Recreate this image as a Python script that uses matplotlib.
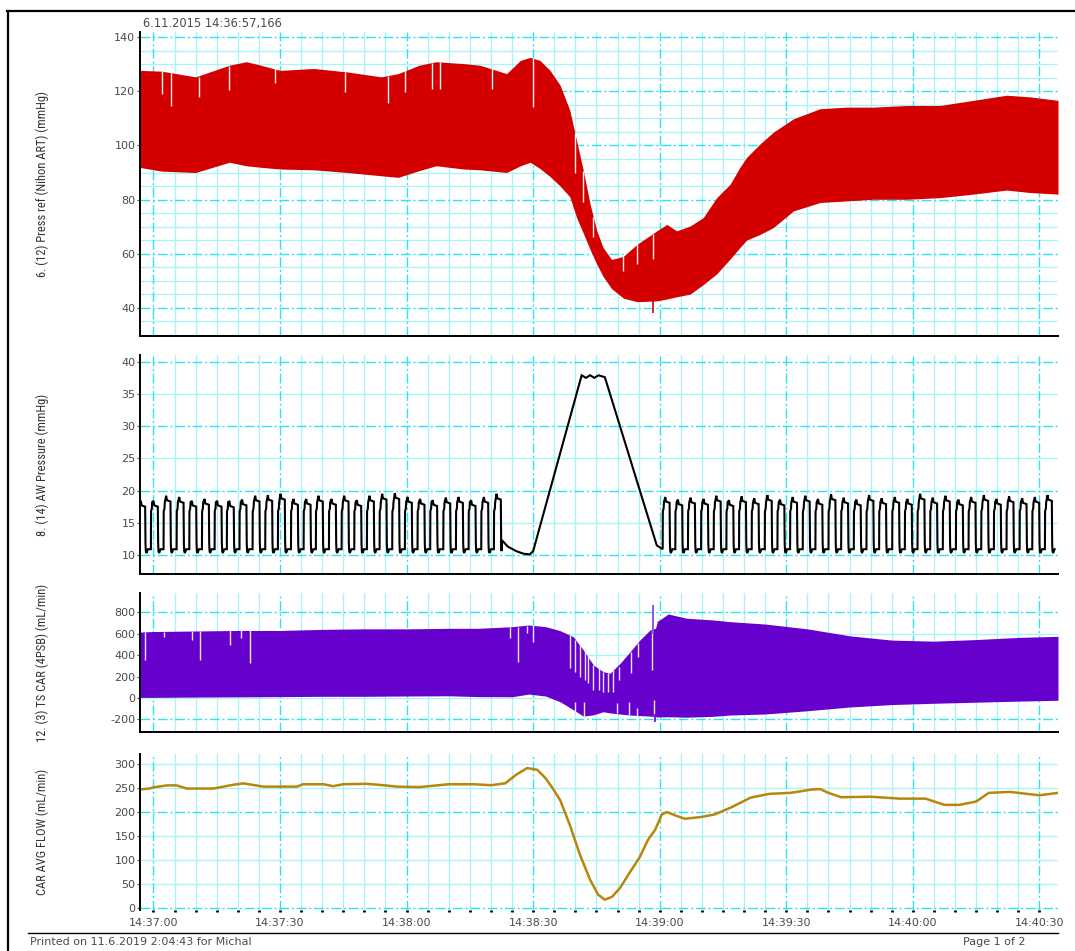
import numpy as np
import matplotlib
matplotlib.use("Agg")
import matplotlib.pyplot as plt
from matplotlib import font_manager as fm
from matplotlib.lines import Line2D
from matplotlib.ticker import FixedLocator, FuncFormatter

plt.rcParams["axes.unicode_minus"] = False

# ── Data (time in s after 14:37:00) ─────────────────────────
# Panel 1: arterial pressure envelope (mmHg)
abp_t = [-3.3, 2, 10, 18, 22, 25, 30, 38, 46, 54, 58, 63, 67, 73.5, 77.4,
         83.7, 87, 89.3, 91.6, 94, 96.4, 98.7, 100.3, 101.9, 103.5, 105.1,
         106.6, 108.6, 111.4, 114.6, 119.3, 121.7, 124, 127.2, 130.3, 133.5,
         136.7, 139, 140.6, 143.8, 146.9, 151.7, 158, 164.3, 170.6, 178.5,
         186.4, 194.3, 202.2, 207.7, 214.4]
abp_hi = [127.8, 127.5, 125.4, 129.7, 131, 129.9, 127.8, 128.5, 127.2, 125.4,
          126.6, 129.7, 131, 130.3, 129.7, 126.6, 131.5, 132.6, 131.5, 127.8,
          122.3, 113, 101.8, 90.7, 78.3, 68.4, 62.2, 57.8, 59, 63.4, 68.4,
          70.8, 68.4, 70.2, 73.3, 80.7, 85.7, 91.9, 95.6, 100.6, 104.9, 109.9,
          113.6, 114.2, 114.2, 114.8, 114.8, 116.7, 118.6, 118, 116.7]
abp_lo = [91.9, 90.5, 90, 93.8, 92.5, 92, 91.3, 91, 90, 88.8, 88.2, 90.7,
          92.5, 91.3, 91, 90, 92.5, 93.8, 91.5, 88.5, 85, 81, 73.3, 67.5, 61.5,
          56, 51.5, 47, 43.5, 42.2, 42.5, 43.2, 44, 45, 48.5, 52.5, 58, 62.2,
          65, 67.1, 69.6, 75.8, 78.9, 79.5, 80.1, 80.1, 80.7, 82, 83.5, 82.6, 82]
# white gaps between beats
abp_gap_t   = [2.0, 4.1, 10.7, 17.8, 28.8, 45.4, 55.7, 59.6, 66.0, 67.9, 80.2,
               90.0, 99.9, 101.9, 104.3, 111.4, 114.6, 118.3]
abp_gap_top = [127.5, 127, 125.5, 129.5, 128.2, 127.3, 125.9, 127.8, 130.7,
               131, 128.3, 132.3, 104.6, 90.7, 73.4, 59, 63.4, 67.4]
abp_gap_bot = [119.2, 114.8, 117.9, 120.4, 123.2, 119.8, 115.6, 119.8, 121,
               121, 121, 114.2, 90, 79, 66, 53.6, 56, 58]

# Panel 2: airway pressure (mmHg), ventilator breaths
breath_on = [-3.6, -0.6, 2.4, 5.5, 8.5, 11.5, 14.5, 17.4, 20.4, 23.5, 26.5,
             29.5, 32.6, 35.6, 38.5, 41.6, 44.6, 47.6, 50.6, 53.6, 56.6, 59.6,
             62.6, 65.6, 68.7, 71.7, 74.7, 77.7, 80.7,
             120.7, 123.7, 126.7, 129.8, 132.8, 135.8, 138.8, 141.8, 144.9,
             147.9, 150.9, 153.9, 156.9, 160.0, 163.0, 166.0, 169.0, 172.0,
             175.1, 178.1, 181.1, 184.1, 187.1, 190.2, 193.2, 196.2, 199.2,
             202.2, 205.3, 208.3, 211.3]
breath_peak = [18.4, 18.4, 19.2, 19.0, 18.4, 18.7, 18.4, 18.3, 18.6, 19.2,
               19.3, 19.5, 18.7, 18.7, 19.2, 18.7, 19.2, 18.5, 19.2, 19.5,
               19.6, 19.0, 18.7, 18.5, 18.9, 19.0, 18.5, 19.0, 19.5,
               19.0, 18.6, 18.9, 18.7, 19.2, 18.5, 19.1, 18.8, 19.3, 18.6,
               19.0, 19.2, 18.7, 19.4, 18.9, 18.6, 19.3, 18.8, 19.0, 18.7,
               19.5, 18.9, 19.2, 18.6, 19.0, 19.3, 18.7, 19.1, 18.8, 19.0, 19.3]
# breath-hold / recruitment manoeuvre
hold_t = [82.6, 84, 86, 87.7, 89.2, 90, 101.5, 102.5, 103.5, 104.5, 105.5,
          107, 119.3, 120.5]
hold_v = [12.3, 11.3, 10.6, 10.2, 10.1, 10.6, 37.9, 37.5, 37.9, 37.5, 37.9,
          37.6, 11.5, 11.0]

# Panel 3: TS CAR flow envelope (mL/min)
car_t = [-3.3, 0, 10, 20, 30, 40, 50, 60, 70, 77, 85, 89, 93, 96.4, 99.5,
         101.9, 104.3, 106.6, 108.2, 110.6, 113, 115.3, 117.7, 119.0, 119.5,
         120, 122, 126.4, 132.7, 136.7, 145, 155, 165, 175, 185, 195, 205, 214.4]
car_hi = [615, 620, 625, 630, 630, 640, 645, 645, 650, 650, 665, 681, 665, 628,
          572, 448, 307, 245, 230, 323, 432, 541, 634, 650, 720, 728, 784, 744,
          728, 712, 690, 645, 580, 540, 530, 545, 565, 575]
car_lo = [5, 5, 8, 10, 12, 15, 15, 18, 20, 12, 11, 36, 17, -36, -110, -170,
          -158, -129, -140, -150, -160, -165, -170, -175, -178, -178, -176,
          -180, -172, -160, -150, -120, -85, -62, -50, -40, -30, -22]
car_gap_t   = [-2.1, 2.4, 9.1, 11.1, 18.2, 20.7, 22.8, 84.6, 86.4, 88.5, 90.0,
               98.7, 100.0, 101.1, 102.2, 103.1, 104.3, 105.5, 106.6, 107.8,
               109.0, 110.4, 113.3, 114.9, 118.2]
car_gap_top = [619, 620, 625, 625, 630, 630, 632, 660, 665, 670, 681, 590, 540,
               500, 464, 401, 308, 277, 246, 231, 261, 292, 432, 510, 634]
car_gap_bot = [354, 566, 540, 354, 495, 557, 323, 557, 339, 603, 526, 277, 246,
               199, 168, 137, 75, 75, 59, 59, 59, 168, 230, 386, 261]
car_gapb_t   = [99.9, 102.1, 109.8, 112.7, 114.6, 118.7]
car_gapb_bot = [-130, -176, -145, -160, -165, -176]
car_gapb_top = [-35, -35, -51, -35, -98, -20]
car_spike_t, car_spike_lo, car_spike_hi = 118.5, 600, 868

# Panel 4: CAR average flow (mL/min)
avg_t = [-3.3, -1, 0, 3.2, 5.5, 7.9, 14.2, 19, 21.3, 26.1, 34, 35.5, 40.3,
         42.6, 45, 50.6, 54.5, 57.7, 63, 70, 76, 80, 83.4, 86, 88.6, 91, 92.9,
         94.6, 96.4, 98.7, 101.1, 103.5, 105.4, 107, 108.7, 110.6, 113, 115.3,
         117.2, 118.9, 120.5, 121.7, 124, 126, 130, 133, 137, 141.5, 146, 151,
         156, 158, 160, 163, 170, 177, 183, 187.5, 191, 195, 198, 203, 207,
         210, 214.4]
avg_v = [247, 249, 251.5, 255.6, 255.6, 249, 249, 257, 259.8, 253, 253, 258,
         258, 254, 258, 258.8, 256, 253, 252, 258, 258, 256, 260, 278, 291.7,
         288, 271, 250, 225, 173, 111, 59, 28, 17.4, 23.5, 42, 75.5, 106.7, 142,
         162.8, 195, 200, 192, 186, 190, 195, 210, 230, 238, 240, 247, 248, 240,
         231, 232, 228, 228, 215, 215, 222, 240, 242, 238, 235, 240]

labels = ["6. (12) Press ref (Nihon ART) (mmHg)", "8. (14) AW Pressure (mmHg)",
          "12. (3) TS CAR (4PSB) (mL/min)", "CAR AVG FLOW (mL/min)"]

# ── Style ────────────────────────────────────────────────────
W, H = 1075, 951
RED, PURPLE, GOLD = "#D40000", "#6600CC", "#B8860B"
GRID_MAJ, GRID_MIN = "#2BE4F0", "#A4F4FA"
TXT = "#4a4a4a"
XLIM = (-3.3, 214.4)

names = {f.name for f in fm.fontManager.ttflist}
narrow = next((n for n in ["Liberation Sans Narrow", "Roboto Condensed"] if n in names), None)
LABEL_FONT = dict(family=narrow, size=9) if narrow else dict(family="DejaVu Sans", size=7.2)


def clock(v, pos=None):
    s = int(round(14 * 3600 + 37 * 60 + v))
    return f"{s // 3600}:{s % 3600 // 60:02d}:{s % 60:02d}"


def px_axes(top, bottom, left=139.5, right=1058):
    return [left / W, 1 - bottom / H, (right - left) / W, (bottom - top) / H]


def style(ax, ylim, yticks, hmaj, hmin, bottom_spine=True):
    ax.set_xlim(*XLIM)
    ax.set_ylim(*ylim)
    for s in ("top", "right"):
        ax.spines[s].set_visible(False)
    ax.spines["left"].set_linewidth(1.4)
    ax.spines["bottom"].set_linewidth(1.4)
    ax.spines["bottom"].set_visible(bottom_spine)
    ax.set_yticks(yticks)
    ax.tick_params(axis="y", labelsize=8, colors=TXT, length=2, pad=1)
    ax.tick_params(axis="x", bottom=False, labelbottom=False)
    vmaj = list(range(0, 215, 30))
    vmin = [m for m in range(0, 215, 5) if m % 30]
    for x in vmin:
        ax.axvline(x, color=GRID_MIN, lw=0.9, zorder=0)
    for y in hmin:
        ax.axhline(y, color=GRID_MIN, lw=0.9, zorder=0)
    for x in vmaj:
        ax.axvline(x, color=GRID_MAJ, lw=1.0, ls=(0, (7, 2, 1.5, 2)), zorder=0.5)
    for y in hmaj:
        ax.axhline(y, color=GRID_MAJ, lw=1.0, ls=(0, (7, 2, 1.5, 2)), zorder=0.5)


fig = plt.figure(figsize=(W / 100, H / 100), dpi=100)

# Panel 1
ax1 = fig.add_axes(px_axes(32, 336))
style(ax1, (29.5, 142), range(40, 141, 20), range(40, 141, 20),
      [v for v in range(30, 141, 5) if v % 20])
ax1.fill_between(abp_t, abp_lo, abp_hi, color=RED, lw=0, zorder=2)
ax1.vlines(abp_gap_t, abp_gap_bot, abp_gap_top, color="#f4f4f4", lw=1.0, zorder=3)
ax1.vlines([118.5], [38], [44], color=RED, lw=1.2, zorder=3)

# Panel 2
ax2 = fig.add_axes(px_axes(355, 574))
style(ax2, (7.05, 41.05), range(10, 41, 5), [10, 20, 30, 40], [15, 25, 35])
BREATH_DT = [0.00, 0.04, 0.22, 0.30, 0.62, 0.80, 1.64, 1.72, 1.80, 1.95, 2.30]
aw_t, aw_v = [], []
for t0, p in zip(breath_on, breath_peak):
    shape = [10.9, 16.8, 17.2, 18.2, p, p - 0.7, p - 0.9, 11.8, 10.6, 10.3, 10.9]
    for d, v in zip(BREATH_DT, shape):
        if not (hold_t[0] <= t0 + d <= hold_t[-1]):
            aw_t.append(t0 + d)
            aw_v.append(v)
aw_t += hold_t
aw_v += hold_v
order = np.argsort(aw_t)
ax2.plot(np.array(aw_t)[order], np.array(aw_v)[order], color="black", lw=1.5,
         zorder=2, solid_joinstyle="miter")

# Panel 3
ax3 = fig.add_axes(px_axes(593.3, 732.3))
style(ax3, (-321, 977), range(-200, 801, 200), [-200, 800], [0, 200, 400, 600])
ax3.fill_between(car_t, car_lo, car_hi, color=PURPLE, lw=0, zorder=2)
ax3.vlines(car_gap_t, car_gap_bot, car_gap_top, color="#ece6f6", lw=1.0, zorder=3)
ax3.vlines(car_gapb_t, car_gapb_bot, car_gapb_top, color="#ece6f6", lw=1.0, zorder=3)
ax3.vlines([car_spike_t], [car_spike_lo], [car_spike_hi], color="#8a4be0", lw=1.3, zorder=3)
ax3.vlines([118.8], [-222], [-150], color=PURPLE, lw=1.2, zorder=3)

# Panel 4
ax4 = fig.add_axes(px_axes(754, 910))
style(ax4, (-4, 321), range(0, 301, 50), [0, 200], [50, 100, 150, 250, 300],
      bottom_spine=False)
ax4.plot(avg_t, avg_v, color=GOLD, lw=1.8, zorder=2)
ax4.xaxis.set_major_locator(FixedLocator(list(range(0, 215, 30))))
ax4.xaxis.set_minor_locator(FixedLocator([m for m in range(0, 215, 5) if m % 30]))
ax4.xaxis.set_major_formatter(FuncFormatter(clock))
ax4.tick_params(axis="x", which="both", bottom=True, labelbottom=True,
                direction="out", length=1.6, width=2.0, color="black")
ax4.tick_params(axis="x", which="major", labelsize=8, labelcolor=TXT, pad=4)

# y labels
for ax, lab in zip([ax1, ax2, ax3, ax4], labels):
    pos = ax.get_position()
    fig.text(42 / W, pos.y0 + pos.height / 2, lab, rotation=90, ha="center",
             va="center", color="#333333", **LABEL_FONT)

# page frame, header and footer
fig.add_artist(Line2D([7 / W, 1], [1 - 11 / H, 1 - 11 / H], color="black", lw=1.6,
                      transform=fig.transFigure))
fig.add_artist(Line2D([7.5 / W, 7.5 / W], [0, 1 - 11 / H], color="black", lw=1.6,
                      transform=fig.transFigure))
fig.add_artist(Line2D([28 / W, 1058 / W], [1 - 933 / H, 1 - 933 / H], color="black",
                      lw=1.0, transform=fig.transFigure))
fig.text(143 / W, 1 - 23 / H, "6.11.2015 14:36:57,166", ha="left", va="center",
         fontsize=8.3, color=TXT)
fig.text(30 / W, 1 - 942 / H, "Printed on 11.6.2019 2:04:43 for Michal", ha="left",
         va="center", fontsize=8, color=TXT)
fig.text(963 / W, 1 - 942 / H, "Page 1 of 2", ha="left", va="center", fontsize=8,
         color=TXT)

fig.savefig("out.png", dpi=100)
